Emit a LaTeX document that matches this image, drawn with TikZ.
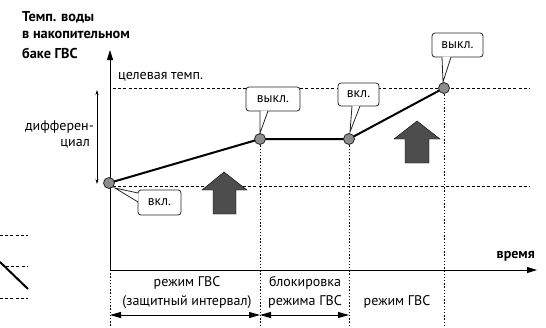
\documentclass[tikz,border=0pt]{standalone}
\usepackage{fontspec}
\setmainfont{PT Sans}
\usetikzlibrary{arrows.meta}
\definecolor{arrowgray}{HTML}{4D4D4D}
\definecolor{ptgray}{HTML}{8C8C8C}
\begin{document}
\begin{tikzpicture}[x=1pt,y=-1pt,
  lbl/.style={font=\fontsize{14}{16}\selectfont, inner sep=0pt},
  ttl/.style={font=\fontsize{14.3}{16}\selectfont\bfseries, inner sep=0pt, anchor=west},
  dashline/.style={line width=0.8pt, dash pattern=on 3pt off 2.2pt},
  dotline/.style={line width=0.9pt, dash pattern=on 1.4pt off 1.8pt},
  axis/.style={line width=0.9pt, -{Triangle[length=10pt,width=6pt]}},
  curve/.style={line width=2pt},
  pt/.style={circle, draw=black!85, line width=0.8pt, fill=ptgray, minimum size=11pt, inner sep=0pt},
  bubble/.style={draw=black!85, line width=0.8pt, fill=white, rounded corners=3pt, font=\fontsize{13.5}{15}\selectfont, inner sep=0pt},
  bigarrow/.style={fill=arrowgray},
  span/.style={line width=0.9pt, {Triangle[length=11pt,width=6pt]}-{Triangle[length=11pt,width=6pt]}},
  diff/.style={line width=0.6pt, {Stealth[length=5pt,width=3pt]}-{Stealth[length=5pt,width=3pt]}}
]
\useasboundingbox (0,0) rectangle (546,327);

% left fragment
\draw[dashline] (0,235) -- (28,235);
\draw[dashline] (6,266) -- (28,266);
\draw[dashline] (0,298) -- (28,298);
\draw[curve] (0,262) -- (28,289);

% title
\node[ttl] (t1) at (22,17) {Темп. воды};
\node[ttl] (t2) at (22,35) {в накопительном};
\node[ttl] (t3) at (22,53) {баке ГВС};

% coordinates
\coordinate (O) at (110,270);
\coordinate (ytop) at (110,50);
\coordinate (xend) at (537,270);
\coordinate (ybot) at (110,327);

% dashed horizontal levels
\coordinate (tl) at (113,88);  \coordinate (tr) at (530,88);
\coordinate (ll) at (113,186); \coordinate (lr) at (530,186);
\draw[dashline] (tl) -- (tr);
\draw[dashline] (ll) -- (lr);

% points
\coordinate (P0) at (109,183);
\coordinate (P1) at (260,139);
\coordinate (P2) at (349,139);
\coordinate (P3) at (444,88);

% vertical dotted lines
\coordinate (b1) at (260,327);
\coordinate (b2) at (349,327);
\coordinate (b3) at (444,327);
\draw[dotline] (P1) -- (b1);
\draw[dotline] (P2) -- (b2);
\draw[dotline] (P3) -- (b3);
\draw[dotline] (O) -- (ybot);

% axes
\draw[axis] (O) -- (ytop);
\draw[axis] (O) -- (xend);

% big arrows
\draw[bigarrow] (224,172) -- (247,190) -- (236,190) -- (236,214) -- (213,214) -- (213,190) -- (202,190) -- cycle;
\draw[bigarrow] (417,121) -- (440,139) -- (429,139) -- (429,163) -- (405,163) -- (405,139) -- (394,139) -- cycle;

% curve
\draw[curve] (P0) -- (P1) -- (P2) -- (P3);
\node[pt] (n0) at (P0) {};
\node[pt] (n1) at (P1) {};
\node[pt] (n2) at (P2) {};
\node[pt] (n3) at (P3) {};

% differential
\coordinate (d1) at (97,90);
\coordinate (d2) at (97,184);
\draw[diff] (d1) -- (d2);
\node[lbl, anchor=east] (dl1) at (94,127) {дифферен-};
\node[lbl, anchor=east] (dl2) at (90,144) {циал};

% labels
\node[lbl, anchor=west] (target) at (118,77) {целевая темп.};
\node[lbl, anchor=east, font=\fontsize{14}{16}\selectfont\bfseries] (time) at (535,256) {время};

% callouts
\node[bubble, minimum width=43pt, minimum height=25pt] (c0) at (159.5,202.5) {вкл.};
\node[bubble, minimum width=54pt, minimum height=24pt] (c1) at (273,99) {выкл.};
\node[bubble, minimum width=41pt, minimum height=23pt] (c2) at (358.5,94.5) {вкл.};
\node[bubble, minimum width=51pt, minimum height=24pt] (c3) at (457.5,45) {выкл.};

% callout pointers
\fill[white] (138.4,193) -- (115,188) -- (138.4,202) -- cycle;
\draw[line width=0.8pt, black!85] (138,193) -- (115,188) -- (138,202);
\fill[white] (260,110.6) -- (260,133) -- (268,110.6) -- cycle;
\draw[line width=0.8pt, black!85] (260,111) -- (260,133) -- (268,111);
\fill[white] (352,105.6) -- (350,132) -- (360,105.6) -- cycle;
\draw[line width=0.8pt, black!85] (352,106) -- (350,132) -- (360,106);
\fill[white] (442,56.6) -- (443,82) -- (451,56.6) -- cycle;
\draw[line width=0.8pt, black!85] (442,57) -- (443,82) -- (451,57);

% bottom labels
\node[lbl] (m1a) at (187,283) {режим ГВС};
\node[lbl] (m1b) at (187,302) {(защитный интервал)};
\node[lbl] (m2a) at (305,283) {блокировка};
\node[lbl] (m2b) at (305,302) {режима ГВС};
\node[lbl] (m3) at (397,302) {режим ГВС};

\coordinate (s0) at (110,315);
\coordinate (s1) at (260,315);
\coordinate (s2) at (349,315);
\draw[span] (s0) -- (s1);
\draw[span] (s1) -- (s2);
\end{tikzpicture}
\end{document}
